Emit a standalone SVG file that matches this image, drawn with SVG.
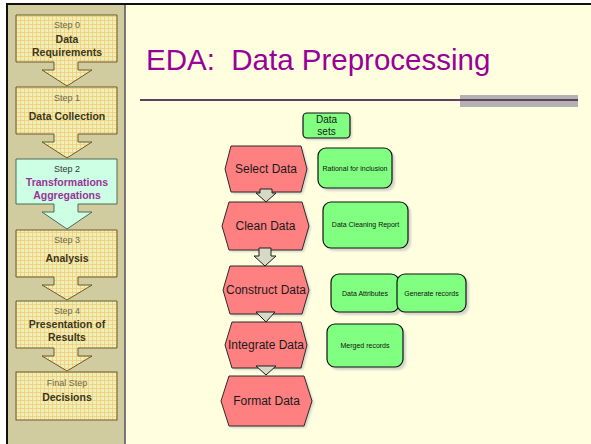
<svg xmlns="http://www.w3.org/2000/svg" width="591" height="444" viewBox="0 0 591 444">
  <defs>
    <!-- woven orange/yellow texture used by the step boxes -->
    <pattern id="plaid" width="4" height="4" patternUnits="userSpaceOnUse">
      <rect width="4" height="4" fill="#EEF0B6"/>
      <rect width="4" height="1" fill="#F3C878" opacity="0.75"/>
      <rect width="1" height="4" fill="#F3C878" opacity="0.75"/>
      <rect x="2" y="2" width="1" height="1" fill="#E2F0C0"/>
    </pattern>
    <filter id="soft" x="-10%" y="-10%" width="130%" height="130%">
      <feGaussianBlur stdDeviation="0.8"/>
    </filter>
  </defs>
  <style>
    .step { fill: url(#plaid); stroke: #6B5B2B; stroke-width: 1; }
    .step.active { fill: #CCFFE4; stroke: #4F6B55; }
    .stepno { font-family: "Liberation Sans", Arial, sans-serif; font-size: 9px; fill: #716848; text-anchor: middle; }
    .stepname { font-family: "Liberation Sans", Arial, sans-serif; font-size: 10.5px; font-weight: bold; fill: #3E3618; text-anchor: middle; }
    .active-no { fill: #333333; }
    .active-name { fill: #993399; }
    .hex { fill: #FF8080; stroke: #2A2A2A; stroke-width: 1; }
    .shadow { fill: #BFC3BE; opacity: 0.7; filter: url(#soft); }
    .hexlabel { font-family: "Liberation Sans", Arial, sans-serif; font-size: 12px; fill: #1A1A1A; text-anchor: middle; }
    .setlabel { font-family: "Liberation Sans", Arial, sans-serif; font-size: 10px; fill: #1A1A1A; text-anchor: middle; }
    .note { fill: #80FF80; stroke: #111111; stroke-width: 1.2; }
    .notelabel { font-family: "Liberation Sans", Arial, sans-serif; font-size: 7px; fill: #111111; text-anchor: middle; }
    .flow { fill: #D5D9C5; stroke: #1E1E1E; stroke-width: 1; stroke-linejoin: miter; }
  </style>

  <!-- page -->
  <rect width="591" height="444" fill="#FFFFFF"/>
  <rect x="6" y="3" width="585" height="441" fill="#FFFFE0"/>

  <!-- side panel -->
  <rect x="7" y="4" width="118" height="440" fill="#D1CCA0"/>
  <line x1="7" y1="4" x2="7" y2="444" stroke="#111111" stroke-width="2"/>
  <line x1="125" y1="4" x2="125" y2="444" stroke="#5E4C5E" stroke-width="1.5"/>
  <line x1="6" y1="4" x2="591" y2="4" stroke="#111111" stroke-width="2"/>

  <g id="step0">
    <path class="step" d="M16,15 H117 V62 H78 V70 H92 L67,86 L42,70 H54 V62 H16 Z"/>
    <text class="stepno" x="67" y="28">Step 0</text>
    <text class="stepname" x="67" y="43">Data</text>
    <text class="stepname" x="67" y="56">Requirements</text>
  </g>
  <g id="step1">
    <path class="step" d="M16,87 H117 V134 H78 V142 H92 L67,158 L42,142 H54 V134 H16 Z"/>
    <text class="stepno" x="67" y="101">Step 1</text>
    <text class="stepname" x="67" y="120">Data Collection</text>
  </g>
  <g id="step2">
    <path class="step active" d="M16,159 H117 V204 H78 V212 H92 L67,229 L42,212 H54 V204 H16 Z"/>
    <text class="stepno active-no" x="67" y="172">Step 2</text>
    <text class="stepname active-name" x="67" y="186">Transformations</text>
    <text class="stepname active-name" x="67" y="199">Aggregations</text>
  </g>
  <g id="step3">
    <path class="step" d="M16,230 H117 V277 H78 V285 H92 L67,300 L42,285 H54 V277 H16 Z"/>
    <text class="stepno" x="67" y="243">Step 3</text>
    <text class="stepname" x="67" y="262">Analysis</text>
  </g>
  <g id="step4">
    <path class="step" d="M16,301 H117 V348 H78 V356 H92 L67,371 L42,356 H54 V348 H16 Z"/>
    <text class="stepno" x="67" y="314">Step 4</text>
    <text class="stepname" x="67" y="328">Presentation of</text>
    <text class="stepname" x="67" y="341">Results</text>
  </g>
  <g id="step-final">
    <rect class="step" x="16" y="372" width="101" height="48"/>
    <text class="stepno" x="67" y="386">Final Step</text>
    <text class="stepname" x="67" y="401">Decisions</text>
  </g>

  <!-- title and rule -->
  <g id="title">
    <text x="146" y="70" xml:space="preserve" font-family="'Liberation Sans', Arial, sans-serif" font-size="29.5" fill="#990099">EDA:  Data Preprocessing</text>
    <rect x="460" y="95" width="118" height="12" fill="#B2B2B2"/>
    <line x1="140" y1="100" x2="578" y2="100" stroke="#604060" stroke-width="2"/>
  </g>

  <!-- input -->
  <g id="datasets">
    <rect class="shadow" x="305" y="115" width="47" height="25" rx="4"/>
    <rect class="note" x="303" y="113" width="47" height="25" rx="4"/>
    <text class="setlabel" x="326.5" y="123">Data</text>
    <text class="setlabel" x="326.5" y="135">sets</text>
  </g>

  <!-- process steps -->
  <g id="select-data">
    <polygon class="shadow" points="233,148 303,148 309,171 303,194 233,194 227,171"/>
    <polygon class="hex" points="231,146 301,146 307,169 301,192 231,192 225,169"/>
    <text class="hexlabel" x="266" y="173">Select Data</text>
  </g>
  <g id="clean-data">
    <polygon class="shadow" points="231,204 304,204 311,228 304,252 231,252 224,228"/>
    <polygon class="hex" points="229,202 302,202 309,226 302,250 229,250 222,226"/>
    <text class="hexlabel" x="265.5" y="230">Clean Data</text>
  </g>
  <g id="construct-data">
    <polygon class="shadow" points="232,268 304,268 311,292 304,316 232,316 225,292"/>
    <polygon class="hex" points="230,266 302,266 309,290 302,314 230,314 223,290"/>
    <text class="hexlabel" x="266" y="294">Construct Data</text>
  </g>
  <g id="integrate-data">
    <polygon class="shadow" points="234,324 303,324 309,347 303,370 234,370 227,347"/>
    <polygon class="hex" points="232,322 301,322 307,345 301,368 232,368 225,345"/>
    <text class="hexlabel" x="266" y="349">Integrate Data</text>
  </g>
  <g id="format-data">
    <polygon class="shadow" points="231,378 306,378 314,403 306,428 231,428 223,403"/>
    <polygon class="hex" points="229,376 304,376 312,401 304,426 229,426 221,401"/>
    <text class="hexlabel" x="266.5" y="405">Format Data</text>
  </g>

  <!-- flow arrows between steps -->
  <g id="connectors">
    <path class="flow" d="M260,189 H272 V193 H276 L266,202 L256,193 H260 Z"/>
    <path class="flow" d="M259,248 H271 V256 H276 L265,266 L254,256 H259 Z"/>
    <path class="flow" d="M256,312 H275 L266,322 Z"/>
    <path class="flow" d="M256,366 H276 L266,375 Z"/>
  </g>

  <!-- outputs -->
  <g id="rational">
    <rect class="shadow" x="321" y="151" width="74" height="40" rx="8"/>
    <rect class="note" x="318" y="148" width="74" height="40" rx="8"/>
    <text class="notelabel" x="355" y="170.5">Rational for inclusion</text>
  </g>
  <g id="cleaning-report">
    <rect class="shadow" x="326" y="205" width="85" height="46" rx="8"/>
    <rect class="note" x="323" y="202" width="85" height="46" rx="8"/>
    <text class="notelabel" x="365.5" y="227">Data Cleaning Report</text>
  </g>
  <g id="attributes">
    <rect class="shadow" x="334" y="277" width="68" height="38" rx="8"/>
    <rect class="note" x="331" y="274" width="68" height="38" rx="8"/>
    <text class="notelabel" x="365" y="295.5">Data Attributes</text>
  </g>
  <g id="generate">
    <rect class="shadow" x="400" y="277" width="69" height="38" rx="8"/>
    <rect class="note" x="397" y="274" width="69" height="38" rx="8"/>
    <text class="notelabel" x="431.5" y="295.5">Generate records</text>
  </g>
  <g id="merged">
    <rect class="shadow" x="330" y="327" width="76" height="43" rx="8"/>
    <rect class="note" x="327" y="324" width="76" height="43" rx="8"/>
    <text class="notelabel" x="365" y="347.5">Merged records</text>
  </g>
</svg>
